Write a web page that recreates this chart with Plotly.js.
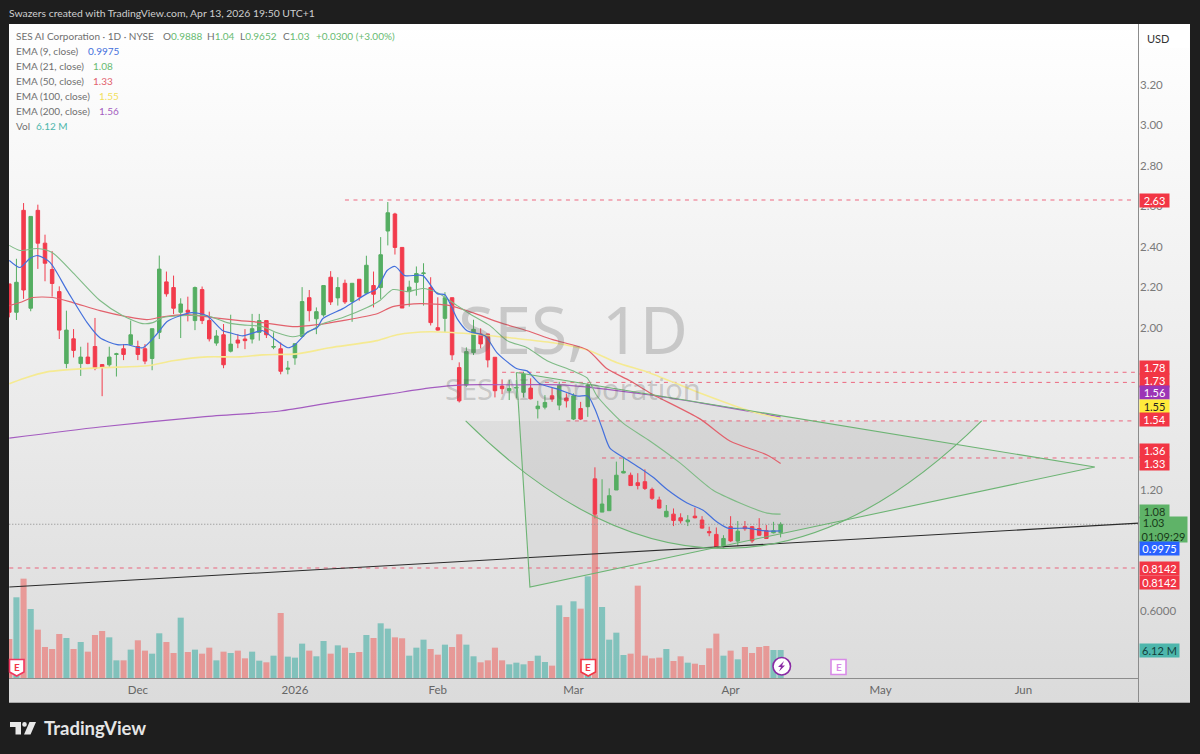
<!DOCTYPE html>
<html>
<head>
<meta charset="utf-8">
<script src="https://cdn.plot.ly/plotly-3.0.1.min.js"></script>
<style>
html,body{margin:0;padding:0;background:#1e1e1e;width:1200px;height:754px;overflow:hidden}
#pane{position:absolute;left:9px;top:24px;width:1181px;height:678px;background:linear-gradient(#ffffff,#dbdbdb);border-bottom:1px solid #a8a8a8}
#chart{position:absolute;left:0;top:0;width:1200px;height:754px}
</style>
</head>
<body>
<div id="pane"></div>
<div id="chart"></div>
<script>
const open_ = [2.216,2.076,2.579,2.096,2.579,2.417,2.287,2.178,1.823,1.945,1.823,1.855,1.907,1.818,1.817,1.868,1.896,1.916,1.907,1.896,1.848,1.977,2.226,2.198,2.076,2.086,2.035,2.188,2.035,1.924,1.965,1.884,1.939,1.944,1.944,1.977,2.035,1.904,1.896,1.795,1.851,1.957,2.148,2.044,2.063,2.249,2.147,2.219,2.129,2.239,2.170,2.208,2.198,2.477,2.561,2.396,2.178,2.224,2.267,2.198,2.000,2.046,2.148,1.803,1.717,1.877,1.969,1.969,1.854,1.712,1.689,1.702,1.681,1.702,1.600,1.608,1.664,1.618,1.653,1.549,1.601,1.610,1.254,1.090,1.097,1.199,1.283,1.272,1.235,1.240,1.202,1.150,1.067,1.080,1.062,1.042,1.070,1.051,0.994,0.980,0.919,1.018,0.947,1.018,1.018,1.009,0.999,0.988,0.9888];
const high_ = [2.216,2.340,2.615,2.549,2.607,2.459,2.378,2.204,2.084,1.993,1.906,1.926,2.048,1.818,1.906,1.876,1.919,2.035,1.936,1.919,1.995,2.356,2.277,2.257,2.145,2.153,2.203,2.203,2.079,1.988,2.018,2.064,1.968,1.993,2.068,2.068,2.035,1.977,1.927,1.836,1.921,2.200,2.186,2.100,2.208,2.279,2.249,2.237,2.219,2.239,2.355,2.277,2.447,2.620,2.567,2.396,2.232,2.302,2.318,2.249,2.150,2.175,2.148,1.829,1.903,2.039,1.997,1.969,1.854,1.745,1.742,1.742,1.783,1.750,1.639,1.667,1.705,1.733,1.676,1.676,1.634,1.725,1.311,1.252,1.207,1.339,1.356,1.285,1.282,1.301,1.211,1.166,1.125,1.108,1.084,1.075,1.112,1.070,1.018,1.014,0.976,1.070,1.046,1.046,1.021,1.060,1.026,1.042,1.04];
const low_ = [2.051,2.038,2.142,2.081,2.290,2.229,2.153,1.944,1.800,1.853,1.762,1.820,1.790,1.662,1.807,1.759,1.840,1.916,1.840,1.820,1.790,1.944,2.153,2.067,1.949,2.031,1.988,2.018,1.932,1.911,1.800,1.878,1.899,1.894,1.922,1.936,1.949,1.894,1.770,1.770,1.817,1.952,2.031,1.968,2.054,2.112,2.109,2.117,2.029,2.133,2.166,2.100,2.142,2.406,2.361,2.097,2.104,2.158,2.109,2.011,1.985,1.977,1.840,1.631,1.708,1.865,1.898,1.804,1.656,1.672,1.643,1.651,1.656,1.646,1.552,1.597,1.634,1.593,1.606,1.544,1.544,1.560,1.059,1.090,1.097,1.199,1.282,1.221,1.202,1.199,1.150,1.108,1.064,1.021,1.034,1.021,1.059,1.008,0.971,0.914,0.915,0.943,0.922,0.998,0.938,0.973,0.957,0.985,0.9652];
const close_ = [2.076,2.224,2.186,2.549,2.417,2.318,2.218,1.988,1.988,1.888,1.855,1.823,1.799,1.805,1.855,1.871,1.868,1.965,1.868,1.835,1.995,2.289,2.167,2.096,2.117,2.076,2.198,2.035,1.945,1.959,1.817,1.919,1.924,1.936,1.995,2.035,1.965,1.907,1.785,1.800,1.921,2.129,2.084,2.079,2.208,2.127,2.198,2.127,2.219,2.153,2.308,2.165,2.360,2.567,2.396,2.097,2.200,2.267,2.270,2.025,1.988,2.148,1.866,1.639,1.882,1.992,1.920,1.841,1.689,1.699,1.700,1.705,1.771,1.649,1.613,1.631,1.648,1.717,1.639,1.664,1.549,1.717,1.080,1.130,1.171,1.272,1.291,1.221,1.221,1.207,1.158,1.110,1.094,1.049,1.047,1.051,1.062,1.011,0.988,0.914,0.960,0.948,0.996,1.008,0.948,0.976,0.960,0.998,1.03];
const volumeM = [8.53,17.64,21.72,15.09,10.57,6.78,6.34,9.62,8.75,6.34,7.87,5.76,9.40,10.28,8.89,3.86,3.86,6.20,8.24,5.98,5.32,9.77,7.87,5.47,13.19,5.69,6.20,5.32,6.63,3.86,5.76,5.47,5.98,4.30,5.76,3.79,3.43,4.88,14.22,4.67,4.45,7.51,5.98,4.74,8.09,5.32,7.14,6.63,5.47,5.69,9.40,8.75,11.96,10.79,8.89,8.68,4.88,6.63,8.38,6.34,5.10,7.29,6.78,9.55,7.29,4.74,3.43,3.86,6.63,3.86,2.99,3.35,2.99,3.72,4.88,3.50,2.70,15.89,13.34,16.77,15.16,22.23,35.6,15.53,8.38,9.91,5.03,5.32,20.19,4.88,4.30,4.45,6.34,3.72,4.74,3.35,3.13,2.84,6.49,9.70,4.88,5.98,4.08,6.78,5.47,6.78,7.00,6.12,6.12];

const ema9X = [0,1.5,2.9,4,5.7,8.1,10.9,12.7,15.1,16.5,18.7,20.7,22.1,23.9,25.6,27.7,29.9,30.9,32.7,35.5,36.9,39,40,41.8,43.1,43.9,46.7,48.1,50.1,51.5,52.9,54,55.4,57.9,59.9,61,62.7,64.1,66.6,68.3,71.1,72.5,74.3,76.7,79.5,81,82,83,84.1,85.9,88.3,90.1,92.2,94.9,97.1,99.1,100.6,103.3,106.1,108];
const ema9Y = [2.332,2.297,2.342,2.356,2.322,2.183,2.025,1.950,1.916,1.916,1.901,1.970,2.030,2.059,2.074,2.059,1.985,1.975,1.960,1.985,1.950,1.901,1.916,1.980,2.0,2.045,2.094,2.124,2.168,2.193,2.282,2.302,2.257,2.257,2.168,2.163,2.045,1.985,1.960,1.876,1.797,1.787,1.723,1.698,1.663,1.663,1.599,1.505,1.406,1.362,1.308,1.263,1.199,1.135,1.100,1.041,1.011,1.011,0.996,0.9975];
const ema21X = [0,1.5,3.9,6,8.9,12.7,15.9,18.7,20.1,21.5,23.9,27.7,30.5,32.3,35.5,37.5,39.7,41.7,43.9,46.7,50.1,51.9,53.7,55.7,57.9,59.9,62.7,64.9,67.3,69.7,72.5,75.3,78.9,80.9,82.3,85.9,89.7,93.9,98.5,102.3,106.1,108];
const ema21Y = [2.406,2.381,2.391,2.371,2.272,2.134,2.059,2.020,2.025,2.050,2.059,2.059,2.025,2.015,2.005,1.975,1.955,1.975,2.020,2.050,2.099,2.134,2.188,2.178,2.193,2.173,2.109,2.059,2.010,1.936,1.901,1.837,1.787,1.752,1.663,1.530,1.441,1.333,1.199,1.135,1.085,1.08];
const ema50X = [0,1.5,3.3,6.1,8.9,12.7,16.5,19.3,21.5,24.9,28.5,32.3,35.5,39.7,43.1,46.7,51.5,53.7,57.5,61.7,64.9,68.7,72.5,76.1,80.9,83.7,86.9,89.7,96.7,100.9,106.1,108];
const ema50Y = [2.109,2.124,2.149,2.149,2.124,2.084,2.054,2.040,2.054,2.064,2.050,2.035,2.025,2.005,2.015,2.035,2.069,2.104,2.119,2.109,2.074,2.025,1.985,1.941,1.891,1.797,1.738,1.678,1.550,1.441,1.372,1.33];
const ema100X = [0,1.9,5.3,12.7,19.3,22.9,27.7,32.3,35.5,40.3,44.9,51.5,54.3,58.9,64.5,70.1,76.1,80.9,85.1,89.7,96.7,103.7,108];
const ema100Y = [1.723,1.748,1.782,1.802,1.812,1.837,1.856,1.856,1.866,1.871,1.901,1.936,1.965,1.980,1.970,1.950,1.926,1.891,1.827,1.777,1.678,1.589,1.55];
const ema200X = [0,12.7,26.7,37.9,44.9,53.3,58.9,63.5,71.5,77.5,89.7,96.7,108];
const ema200Y = [1.455,1.510,1.559,1.589,1.629,1.673,1.703,1.718,1.718,1.718,1.668,1.629,1.56];

const levelPrices = [2.63,1.78,1.73,1.54,1.357,0.8142];
const levelStarts = [47,69,75,78,83,0];
const levelEnd = 157.6;
const trendX = [0,158.2];
const trendY = [0.7204,1.0355];
const lastPrice = 1.03;

const triX = [71.0,72.9,152.0];
const triY = [1.779,0.7204,1.3125];
const arcX = [63.9,100,136.15];
const arcY = [1.54,0.2812,1.54];

const xTickVals = [18,40,60,79,101,122,142];
const xTickText = ['Dec','2026','Feb','Mar','Apr','May','Jun'];
const yTickVals = [0.6,1.2,2.0,2.2,2.4,2.6,2.8,3.0,3.2];
const yTickText = ['0.6000','1.20','2.00','2.20','2.40','2.60','2.80','3.00','3.20'];

const tagText = ['2.63','1.78','1.73','1.56','1.55','1.54','1.36','1.33','1.08','0.9975','0.8142','0.8142'];
const tagPrice = [2.63,1.78,1.73,1.56,1.55,1.54,1.36,1.33,1.08,0.9975,0.8142,0.8142];
const tagShift = [0,5,2,24,12,1,7,0,3,-18,0,-14];
const tagBg = ['#f23645','#f23645','#f23645','#9c35b5','#ffeb3b','#f23645','#f23645','#f23645','#5fb368','#2962ff','#f23645','#f23645'];
const tagFg = ['#fff','#fff','#fff','#fff','#222','#fff','#fff','#fff','#1e3a1e','#fff','#fff','#fff'];
const tagW = [29,29,29,29,29,29,29,29,29,39,39,39];

const FONT = 'Lato, sans-serif';
const bars = open_.map((_, i) => i);
const UP = '#55ae62', DOWN = '#f23b4c';
const px = x => (x - 9) / 1130;
const py = y => (678 - y) / 654;

const traces = [];
traces.push({type:'bar', x:bars, y:volumeM, yaxis:'y', width:0.85,
  marker:{color:bars.map(i => close_[i] >= open_[i] ? 'rgba(38,166,154,0.5)' : 'rgba(239,83,80,0.5)'), line:{width:0}}, hoverinfo:'skip'});
traces.push({type:'candlestick', x:bars, open:open_, high:high_, low:low_, close:close_, yaxis:'y2',
  increasing:{line:{color:UP,width:1}, fillcolor:UP}, decreasing:{line:{color:DOWN,width:1}, fillcolor:DOWN},
  whiskerwidth:0, hoverinfo:'skip'});
function line(x, y, color, width, dash, shape){
  traces.push({type:'scatter', mode:'lines', x, y, yaxis:'y2', hoverinfo:'skip',
    line:{color, width, dash:dash||'solid', shape:shape||'linear', smoothing:0.7}});
}
line([0,158.2],[lastPrice,lastPrice],'#8a8a8a',1,'1px,2px');
levelPrices.forEach((p,i)=>line([levelStarts[i],levelEnd],[p,p],'rgba(236,70,100,0.8)',1,'4px,4.5px'));
line(ema200X,ema200Y,'#a45cc0',1.2,null,'spline');
line(ema100X,ema100Y,'#f5ea92',1.6,null,'spline');
line(ema50X,ema50Y,'#e2616c',1.2,null,'spline');
line(ema21X,ema21Y,'#7fbb86',1.1,null,'spline');
line(ema9X,ema9Y,'#4470dc',1.2,null,'spline');
line(trendX,trendY,'#2b2b2b',1.1);
line(triX.concat(triX[0]),triY.concat(triY[0]),'#6db474',1.1);

const shapes = [
  {type:'path', xref:'x', yref:'y2', layer:'below', line:{width:0}, fillcolor:'rgba(110,110,110,0.07)',
   path:`M ${triX[0]} ${triY[0]} L ${triX[1]} ${triY[1]} L ${triX[2]} ${triY[2]} Z`},
  {type:'path', xref:'x', yref:'y2', layer:'below', line:{width:0}, fillcolor:'rgba(110,110,110,0.085)',
   path:`M ${arcX[0]} ${arcY[0]} Q ${arcX[1]} ${arcY[1]} ${arcX[2]} ${arcY[2]} Z`},
  {type:'path', xref:'x', yref:'y2', layer:'above', line:{color:'#6db474',width:1.1},
   path:`M ${arcX[0]} ${arcY[0]} Q ${arcX[1]} ${arcY[1]} ${arcX[2]} ${arcY[2]}`},
  {type:'line', xref:'paper', yref:'paper', x0:px(1138.5), x1:px(1138.5), y0:py(24), y1:py(702), line:{color:'#8c8c8c',width:1}},
  {type:'rect', xref:'paper', yref:'paper', x0:px(1142), x1:px(1189), y0:py(27), y1:py(48), line:{width:0}, fillcolor:'rgba(255,255,255,0.85)'}
];
function poly(pts, fill, lineColor, lw){
  const d = pts.map((p,i)=>(i?'L ':'M ')+px(p[0])+' '+py(p[1])).join(' ')+' Z';
  shapes.push({type:'path', xref:'paper', yref:'paper', path:d, fillcolor:fill, line:{color:lineColor||fill,width:lw||0}});
}
function badge(x0, color){
  poly([[x0,659.5],[x0+14.5,659.5],[x0+14.5,672],[x0+7.2,676],[x0,672]],'#ffffff',color,1.6);
}
badge(9.5,'#f2365f'); badge(581,'#f23645');
poly([[831,659.5],[846,659.5],[846,674.5],[831,674.5]],'#ffffff','#d98ae8',1.6);
shapes.push({type:'circle', xref:'paper', yref:'paper', x0:px(773),x1:px(790.5),y0:py(657.5),y1:py(675),fillcolor:'#ffffff',line:{color:'#8a2aa5',width:1.6}});
poly([[784,661],[778,667],[781,667],[779,671.5],[785,665.5],[782,665.5]],'#8a2aa5');
poly([[10,722],[21,722],[21,734.5],[15.5,734.5],[15.5,727],[10,727]],'#e8e8e8');
shapes.push({type:'circle', xref:'paper', yref:'paper', x0:px(22.2),x1:px(26.8),y0:py(722),y1:py(726.8),fillcolor:'#e8e8e8',line:{width:0}});
poly([[29.5,722],[36,722],[30.5,734.5],[24,734.5]],'#e8e8e8');

function text(x, y, t, size, color, opts){
  return Object.assign({xref:'paper', yref:'paper', x:px(x), y:py(y), text:t, showarrow:false,
    xanchor:'left', yanchor:'middle', align:'left', font:{family:FONT,size,color}}, opts||{});
}
const G = '#68bb72', L = '#707070', S = 10;
const col = (s,c) => `<span style="color:${c}">${s}</span>`;
const center = {xanchor:'center', align:'center'};
const annotations = [
  text(572.5,328,'SES, 1D',66,'rgba(95,95,95,0.27)',Object.assign({font:{family:'Noto Sans, sans-serif',size:66,color:'rgba(95,95,95,0.27)'}},center)),
  text(573,388,'SES AI Corporation',29,'rgba(95,95,95,0.27)',Object.assign({font:{family:'Noto Sans, sans-serif',size:29,color:'rgba(95,95,95,0.27)'}},center)),
  text(7,13,'Swazers created with TradingView.com, Apr 13, 2026 19:50 UTC+1',10.4,'#cfcfcf'),
  text(14,36,'SES AI Corporation · 1D · NYSE',S,L),
  text(161,36,'O'+col('0.9888',G),S,L),
  text(205,36,'H'+col('1.04',G),S,L),
  text(238,36,'L'+col('0.9652',G),S,L),
  text(281,36,'C'+col('1.03',G),S,L),
  text(314,36,col('+0.0300 (+3.00%)',G),S,L),
  text(14,51,'EMA (9, close)',S,L),   text(86,51,col('0.9975','#4470dc'),S,L),
  text(14,66,'EMA (21, close)',S,L),  text(91,66,col('1.08',G),S,L),
  text(14,81,'EMA (50, close)',S,L),  text(91,81,col('1.33','#e2616c'),S,L),
  text(14,96,'EMA (100, close)',S,L), text(97,96,col('1.55','#f2e05a'),S,L),
  text(14,111,'EMA (200, close)',S,L),text(97,111,col('1.56','#a45cc0'),S,L),
  text(14,126,'Vol',S,L),             text(34,126,col('6.12 M','#4db6ac'),S,L),
  text(1158,38,'USD',11,'#333333',center),
  text(42,728,'<b>TradingView</b>',18.5,'#e6e6e6'),
  text(16.7,667,'<b>E</b>',10,'#f23645',center),
  text(588.2,667,'<b>E</b>',10,'#f23645',center),
  text(838.5,667,'<b>E</b>',10,'#d98ae8',center),
  {xref:'paper', yref:'y', x:1, y:volumeM[108], xanchor:'left', yanchor:'middle', showarrow:false,
   text:'6.12 M', bgcolor:'#4db6ac', width:39, height:13, borderpad:0, font:{family:FONT,size:11,color:'#14403b'}},
  {xref:'paper', yref:'y2', x:1, y:lastPrice, yshift:-5.5, xanchor:'left', yanchor:'middle', showarrow:false, align:'center',
   text:'1.03\u00A0\u00A0\u00A0\u00A0\u00A0\u00A0\u00A0<br>01:09:29', bgcolor:'#5fb368', width:47, height:25, borderpad:0, font:{family:FONT,size:11,color:'#173a18'}}
];
tagText.forEach((t,i)=>annotations.push({xref:'paper', yref:'y2', x:1, y:tagPrice[i], yshift:tagShift[i], xanchor:'left', yanchor:'middle',
  showarrow:false, text:t, bgcolor:tagBg[i], width:tagW[i], height:13, borderpad:0, font:{family:FONT,size:11,color:tagFg[i]}}));

const layout = {
  width:1200, height:754, showlegend:false, dragmode:false,
  paper_bgcolor:'rgba(0,0,0,0)', plot_bgcolor:'rgba(0,0,0,0)',
  margin:{l:9, r:61, t:24, b:76, pad:0},
  barmode:'overlay',
  xaxis:{type:'linear', range:[-0.04,158.18], rangeslider:{visible:false}, showgrid:false, zeroline:false,
    showline:true, linecolor:'#8c8c8c', linewidth:1, ticks:'', tickmode:'array', tickvals:xTickVals, ticktext:xTickText,
    tickfont:{family:FONT,size:11.5,color:'#666666'}, ticklabelstandoff:1},
  yaxis:{range:[0,143], visible:false, showgrid:false, zeroline:false, fixedrange:true},
  yaxis2:{overlaying:'y', side:'right', range:[0.2714,3.4985], showgrid:false, zeroline:false, showline:false, ticks:'',
    tickmode:'array', tickvals:yTickVals, ticktext:yTickText, tickfont:{family:FONT,size:11.5,color:'#7a7a7a'}, fixedrange:true},
  shapes, annotations
};
Plotly.newPlot('chart', traces, layout, {displayModeBar:false, staticPlot:true});
</script>
</body>
</html>
